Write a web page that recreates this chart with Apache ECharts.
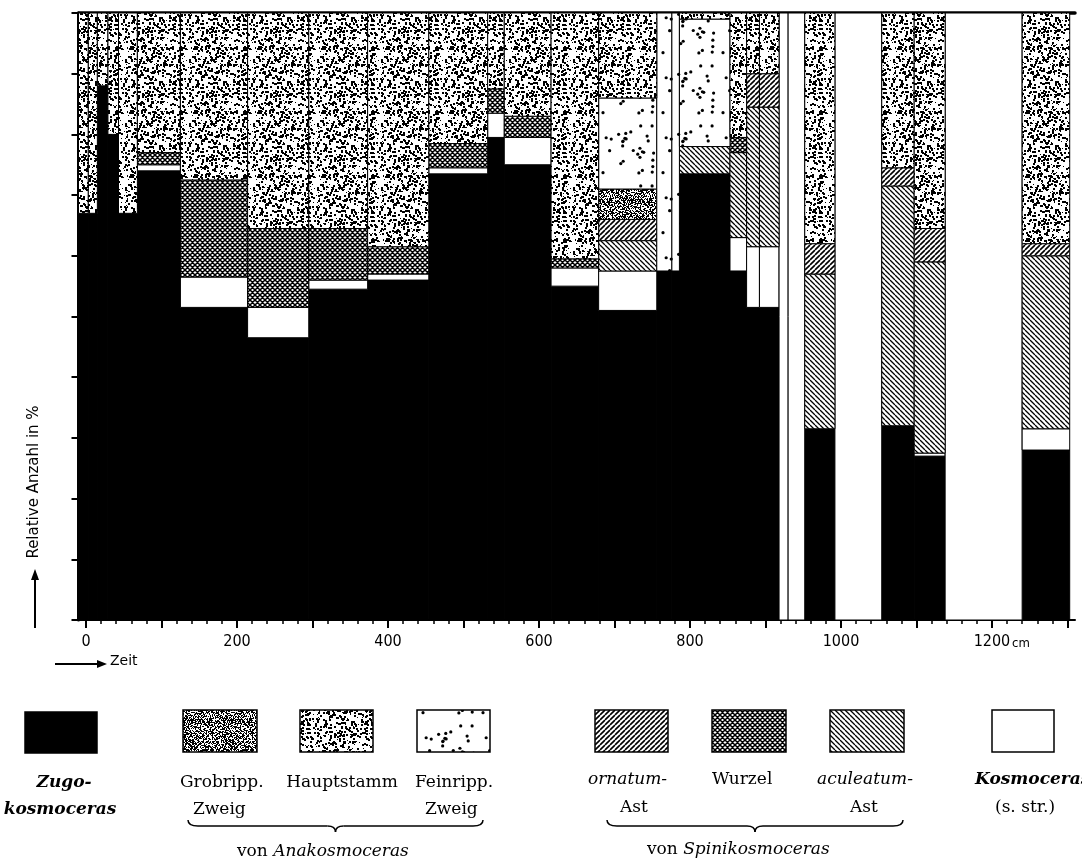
<!DOCTYPE html>
<html>
<head>
<meta charset="utf-8">
<script src="https://cdn.jsdelivr.net/npm/echarts@6.0.0/dist/echarts.min.js"></script>
<style>
  html, body { margin: 0; padding: 0; background: #fff; }
  #chart { width: 1082px; height: 863px; }
</style>
</head>
<body>
<div id="chart"></div>
<script>
// Probenabschnitte (Grenzen in cm)
const edges = [-10, 3, 15, 29, 43, 68, 125, 214, 295, 373, 454, 532, 554, 616, 679, 756, 776, 786, 853, 875, 892, 918, 930, 952, 992, 1054, 1097, 1138, 1240, 1303]

// Anteile in % je Abschnitt
const zugo   = [67, 67, 88, 80, 67, 74, 51.5, 46.5, 54.5, 56, 73.5, 79.5, 75, 55, 51, 57.5, 57.5, 73.5, 57.5, 51.5, 51.5, 0, 0, 31.5, 0, 32, 27, 0, 28]
const kosmo  = [0, 0, 0, 0, 0, 1, 5, 5, 1.5, 1, 1, 4, 4.5, 3, 6.5, 0, 0, 0, 5.5, 10, 10, 100, 100, 0, 100, 0, 0.5, 100, 3.5]
const acul   = [0, 0, 0, 0, 0, 0, 0, 0, 0, 0, 0, 0, 0, 0, 5, 0, 0, 4.5, 14, 23, 23, 0, 0, 25.5, 0, 39.5, 31.5, 0, 28.5]
const ornat  = [0, 0, 0, 0, 0, 0, 0, 0, 0, 0, 0, 0, 0, 0, 3.5, 0, 0, 0, 0, 5.5, 5.5, 0, 0, 5, 0, 3, 5.5, 0, 2]
const wurzel = [0, 0, 0, 0, 0, 2, 16, 13, 8.5, 4.5, 4, 4, 3.5, 1.5, 0, 0, 0, 0, 2.5, 0, 0, 0, 0, 0, 0, 0, 0, 0, 0]
const grob   = [0, 0, 0, 0, 0, 0, 0, 0, 0, 0, 0, 0, 0, 0, 5, 0, 0, 0, 0, 0, 0, 0, 0, 0, 0, 0, 0, 0, 0]
const fein   = [0, 0, 0, 0, 0, 0, 0, 0, 0, 0, 0, 0, 0, 0, 15, 42.5, 42.5, 21, 0, 0, 0, 0, 0, 0, 0, 0, 0, 0, 0]
const haupt  = [33, 33, 12, 20, 33, 23, 27.5, 35.5, 35.5, 38.5, 21.5, 12.5, 17, 40.5, 14, 0, 0, 1, 20.5, 10, 10, 0, 0, 38, 0, 25.5, 35.5, 0, 38]

// Achsenbeschriftung
const xLabels = [0, 200, 400, 600, 800, 1000, 1200]
const xMajorTicks = [0, 100, 200, 300, 400, 500, 600, 700, 800, 900, 1000, 1100, 1200, 1300]
const xMinorTicks = []
for (let v = 0; v <= 1300; v += 20) xMinorTicks.push(v)

// --- Muster (Schraffuren / Punktierung) ---
const rand = (seed) => () => (seed = (seed * 16807) % 2147483647) / 2147483647

const makeTile = (w, h, draw) => {
  const c = document.createElement('canvas')
  c.width = w
  c.height = h
  const ctx = c.getContext('2d')
  ctx.fillStyle = '#fff'
  ctx.fillRect(0, 0, w, h)
  ctx.fillStyle = '#000'
  ctx.strokeStyle = '#000'
  draw(ctx, w, h)
  return { image: c, repeat: 'repeat' }
}

const stipple = (size, n, seed, big) => makeTile(size, size, (ctx) => {
  const r = rand(seed)
  for (let i = 0; i < n; i++) {
    const x = Math.floor(r() * size), y = Math.floor(r() * size)
    const s = r() < big ? 2 : 1
    ctx.fillRect(x, y, s, s)
  }
})

const noise = (size, p, seed) => makeTile(size, size, (ctx) => {
  const r = rand(seed)
  for (let x = 0; x < size; x++) {
    for (let y = 0; y < size; y++) {
      if (r() < p) ctx.fillRect(x, y, 1, 1)
    }
  }
})

const dots = (size, n, seed) => makeTile(size, size, (ctx) => {
  const r = rand(seed)
  for (let i = 0; i < n; i++) {
    const x = 3 + r() * (size - 6), y = 3 + r() * (size - 6)
    ctx.beginPath()
    ctx.arc(x, y, 1.6, 0, Math.PI * 2)
    ctx.fill()
  }
})

const hatch = (s, width, up, down) => makeTile(s, s, (ctx) => {
  ctx.lineWidth = width
  ctx.beginPath()
  for (let k = -s; k <= s; k += s) {
    if (up) { ctx.moveTo(k, s); ctx.lineTo(k + s, 0) }
    if (down) { ctx.moveTo(k, 0); ctx.lineTo(k + s, s) }
  }
  ctx.stroke()
})

const fills = {
  zugo: '#000',
  kosmo: '#fff',
  acul: hatch(5, 1.3, false, true),
  ornat: hatch(5, 1.6, true, false),
  wurzel: hatch(5, 1.5, true, true),
  grob: noise(40, 0.55, 11),
  fein: dots(60, 30, 7),
  haupt: stipple(64, 520, 3, 0.7)
}

// Stapelreihenfolge von unten nach oben
const layers = [
  { name: 'Zugokosmoceras', values: zugo, fill: fills.zugo },
  { name: 'Kosmoceras (s. str.)', values: kosmo, fill: fills.kosmo },
  { name: 'aculeatum-Ast', values: acul, fill: fills.acul },
  { name: 'ornatum-Ast', values: ornat, fill: fills.ornat },
  { name: 'Wurzel', values: wurzel, fill: fills.wurzel },
  { name: 'Grobripp. Zweig', values: grob, fill: fills.grob },
  { name: 'Feinripp. Zweig', values: fein, fill: fills.fein },
  { name: 'Hauptstamm', values: haupt, fill: fills.haupt }
]

const base = edges.slice(1).map(() => 0)

const series = layers.map(layer => {
  const data = []
  layer.values.forEach((v, i) => {
    if (v > 0) data.push([edges[i], edges[i + 1], base[i], base[i] + v])
    base[i] += v
  })
  return {
    type: 'custom',
    name: layer.name,
    silent: true,
    animation: false,
    encode: { x: [0, 1], y: [2, 3] },
    data: data,
    renderItem: (params, api) => {
      const p0 = api.coord([api.value(0), api.value(3)])
      const p1 = api.coord([api.value(1), api.value(2)])
      return {
        type: 'rect',
        shape: { x: p0[0], y: p0[1], width: p1[0] - p0[0], height: p1[1] - p0[1] },
        style: { fill: layer.fill, stroke: '#000', lineWidth: 1 }
      }
    }
  }
})

// --- Legende und Beschriftungen ---
const serif = "'DejaVu Serif', 'Liberation Serif', serif"
const sans = "'DejaVu Sans', sans-serif"
const narrow = "'DejaVu Sans Condensed', 'Liberation Sans Narrow', sans-serif"

const txt = (text, x, y, font, align) => ({
  type: 'text', x: x, y: y, silent: true,
  style: { text: text, font: font, fill: '#000', align: align || 'left', verticalAlign: 'middle', textAlign: align || 'left', textVerticalAlign: 'middle' }
})

const box = (x, y, w, h, fill) => ({
  type: 'rect', silent: true,
  shape: { x: x, y: y, width: w, height: h },
  style: { fill: fill, stroke: '#000', lineWidth: 1.5 }
})

const curve = (x1, y1, cx, cy, x2, y2) => ({
  type: 'bezierCurve', silent: true,
  shape: { x1: x1, y1: y1, cpx1: cx, cpy1: cy, x2: x2, y2: y2 },
  style: { fill: null, stroke: '#000', lineWidth: 1.5 }
})

const seg = (x1, y1, x2, y2) => ({
  type: 'line', silent: true,
  shape: { x1: x1, y1: y1, x2: x2, y2: y2 },
  style: { stroke: '#000', lineWidth: 1.5 }
})

// geschweifte Klammer unter einer Gruppe
const brace = (x1, x2, y) => {
  const c = (x1 + x2) / 2
  return [
    curve(x1, y - 6, x1, y, x1 + 10, y),
    seg(x1 + 10, y, c - 8, y),
    curve(c - 8, y, c, y, c, y + 6),
    curve(c, y + 6, c, y, c + 8, y),
    seg(c + 8, y, x2 - 10, y),
    curve(x2 - 10, y, x2, y, x2, y - 6)
  ]
}

const F = '17px ' + serif
const FI = 'italic 17px ' + serif
const FBI = 'italic bold 17px ' + serif

const graphics = [
  // Achsentitel
  { type: 'line', silent: true, shape: { x1: 35, y1: 628, x2: 35, y2: 578 }, style: { stroke: '#000', lineWidth: 2 } },
  { type: 'polygon', silent: true, shape: { points: [[31, 580], [35, 569], [39, 580]] }, style: { fill: '#000' } },
  { type: 'text', x: 34, y: 482, rotation: Math.PI / 2, silent: true,
    style: { text: 'Relative Anzahl in %', font: '15px ' + sans, fill: '#000', align: 'center', verticalAlign: 'middle', textAlign: 'center', textVerticalAlign: 'middle' } },
  { type: 'line', silent: true, shape: { x1: 55, y1: 664, x2: 99, y2: 664 }, style: { stroke: '#000', lineWidth: 2 } },
  { type: 'polygon', silent: true, shape: { points: [[97, 660], [107, 664], [97, 668]] }, style: { fill: '#000' } },
  txt('Zeit', 110, 661, '14px ' + sans),
  txt('cm', 1012, 644, '13px ' + narrow),

  // Legende
  box(25, 712, 72, 41, fills.zugo),
  box(183, 710, 74, 42, fills.grob),
  box(300, 710, 73, 42, fills.haupt),
  box(417, 710, 73, 42, fills.fein),
  box(595, 710, 73, 42, fills.ornat),
  box(712, 710, 74, 42, fills.wurzel),
  box(830, 710, 74, 42, fills.acul),
  box(992, 710, 62, 42, fills.kosmo),

  txt('Zugo-', 64, 783, FBI, 'center'),
  txt('kosmoceras', 60, 810, FBI, 'center'),
  txt('Grobripp.', 180, 783, F),
  txt('Zweig', 193, 810, F),
  txt('Hauptstamm', 342, 783, F, 'center'),
  txt('Feinripp.', 415, 783, F),
  txt('Zweig', 425, 810, F),
  ...brace(188, 483, 826),
  {
    type: 'text', x: 237, y: 852, silent: true,
    style: {
      text: '{a|von }{b|Anakosmoceras}', verticalAlign: 'middle', textVerticalAlign: 'middle',
      rich: { a: { font: F, fill: '#000' }, b: { font: FI, fill: '#000' } }
    }
  },

  txt('ornatum-', 588, 780, FI),
  txt('Ast', 620, 808, F),
  txt('Wurzel', 712, 780, F),
  txt('aculeatum-', 817, 780, FI),
  txt('Ast', 850, 808, F),
  ...brace(607, 903, 826),
  {
    type: 'text', x: 647, y: 850, silent: true,
    style: {
      text: '{a|von }{b|Spinikosmoceras}', verticalAlign: 'middle', textVerticalAlign: 'middle',
      rich: { a: { font: F, fill: '#000' }, b: { font: FI, fill: '#000' } }
    }
  },
  txt('Kosmoceras', 975, 780, FBI),
  txt('(s. str.)', 995, 808, F)
]

const xBase = { type: 'value', min: -10, max: 1310, splitLine: { show: false } }

const option = {
  backgroundColor: '#fff',
  animation: false,
  grid: { left: 78.5, top: 13, width: 996.5, height: 607 },
  xAxis: [
    Object.assign({}, xBase, {
      position: 'bottom',
      axisLine: { onZero: false, lineStyle: { color: '#000', width: 2 } },
      axisTick: { customValues: xMajorTicks, length: 8, lineStyle: { color: '#000', width: 2 } },
      axisLabel: {
        customValues: xLabels, margin: 14, color: '#000', fontSize: 16,
        fontFamily: narrow, formatter: (v) => String(v)
      }
    }),
    Object.assign({}, xBase, {
      position: 'bottom',
      axisLine: { show: false, onZero: false },
      axisTick: { customValues: xMinorTicks, length: 4, lineStyle: { color: '#000', width: 1.5 } },
      axisLabel: { show: false }
    }),
    Object.assign({}, xBase, {
      position: 'top',
      axisLine: { onZero: false, lineStyle: { color: '#000', width: 3.5 } },
      axisTick: { show: false },
      axisLabel: { show: false }
    })
  ],
  yAxis: {
    type: 'value', min: 0, max: 100, interval: 10,
    axisLine: { onZero: false, lineStyle: { color: '#000', width: 3 } },
    axisTick: { length: 7, lineStyle: { color: '#000', width: 2 } },
    axisLabel: { show: false },
    splitLine: { show: false }
  },
  graphic: graphics,
  series: series
}

const chart = echarts.init(document.getElementById('chart'))
chart.setOption(option)
</script>
</body>
</html>
